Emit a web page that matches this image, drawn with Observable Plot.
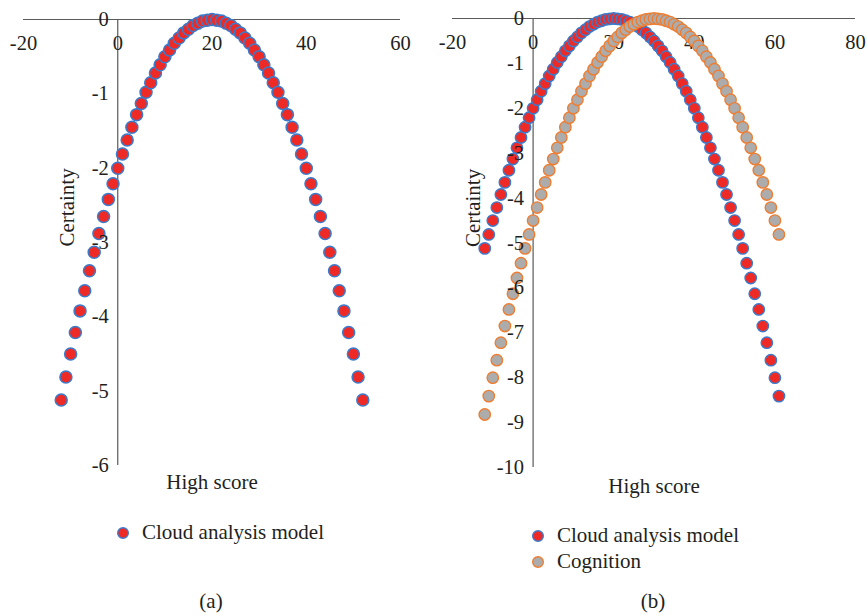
<!DOCTYPE html>
<html>
<head>
<meta charset="utf-8">
<script src="https://cdn.jsdelivr.net/npm/d3@7"></script>
<script src="https://cdn.jsdelivr.net/npm/@observablehq/plot@0.6"></script>
<style>
  html, body { margin: 0; padding: 0; background: #fff; }
  #wrap { position: relative; width: 868px; height: 616px; overflow: hidden; font-family: "Liberation Serif", serif; color: #231f20; }
  .panel { position: absolute; top: 0; }
  .lg { position: absolute; font-size: 21px; line-height: 22px; white-space: nowrap; }
  .lgm { position: absolute; }
  .cap { position: absolute; font-size: 21px; line-height: 22px; transform: translate(-50%, -50%); }
</style>
</head>
<body>
<div id="wrap">
  <div id="pa" class="panel" style="left:0px"></div>
  <div id="pb" class="panel" style="left:434px"></div>
</div>
<script>
// ---- Data ----
const scoreA = [-12,-11,-10,-9,-8,-7,-6,-5,-4,-3,-2,-1,0,1,2,3,4,5,6,7,8,9,10,11,12,13,14,15,16,17,18,19,20,21,22,23,24,25,26,27,28,29,30,31,32,33,34,35,36,37,38,39,40,41,42,43,44,45,46,47,48,49,50,51,52];
const cloudA = [-5.12,-4.81,-4.5,-4.21,-3.92,-3.65,-3.38,-3.13,-2.88,-2.65,-2.42,-2.21,-2,-1.81,-1.62,-1.45,-1.28,-1.13,-0.98,-0.85,-0.72,-0.61,-0.5,-0.41,-0.32,-0.25,-0.18,-0.13,-0.08,-0.05,-0.02,-0.01,0,
  -0.01,-0.02,-0.05,-0.08,-0.13,-0.18,-0.25,-0.32,-0.41,-0.5,-0.61,-0.72,-0.85,-0.98,-1.13,-1.28,-1.45,-1.62,-1.81,-2,-2.21,-2.42,-2.65,-2.88,-3.13,-3.38,-3.65,-3.92,-4.21,-4.5,-4.81,-5.12];

const scoreB = [-12,-11,-10,-9,-8,-7,-6,-5,-4,-3,-2,-1,0,1,2,3,4,5,6,7,8,9,10,11,12,13,14,15,16,17,18,19,20,21,22,23,24,25,26,27,28,29,30,31,32,33,34,35,36,37,38,39,40,41,42,43,44,45,46,47,48,49,50,51,52,53,54,55,56,57,58,59,60,61];
const cloudB = [-5.12,-4.81,-4.5,-4.21,-3.92,-3.65,-3.38,-3.13,-2.88,-2.65,-2.42,-2.21,-2,-1.81,-1.62,-1.45,-1.28,-1.13,-0.98,-0.85,-0.72,-0.61,-0.5,-0.41,-0.32,-0.25,-0.18,-0.13,-0.08,-0.05,-0.02,-0.01,0,
  -0.01,-0.02,-0.05,-0.08,-0.13,-0.18,-0.25,-0.32,-0.41,-0.5,-0.61,-0.72,-0.85,-0.98,-1.13,-1.28,-1.45,-1.62,-1.81,-2,-2.21,-2.42,-2.65,-2.88,-3.13,-3.38,-3.65,-3.92,-4.21,-4.5,-4.81,-5.12,
  -5.45,-5.78,-6.13,-6.48,-6.85,-7.22,-7.61,-8,-8.41];
const cognitionB = [-8.82,-8.41,-8,-7.61,-7.22,-6.85,-6.48,-6.13,-5.78,-5.45,-5.12,-4.81,-4.5,-4.21,-3.92,-3.65,-3.38,-3.13,-2.88,-2.65,-2.42,-2.21,-2,-1.81,-1.62,-1.45,-1.28,-1.13,-0.98,-0.85,-0.72,-0.61,-0.5,-0.41,-0.32,-0.25,-0.18,-0.13,-0.08,-0.05,-0.02,-0.01,0,
  -0.01,-0.02,-0.05,-0.08,-0.13,-0.18,-0.25,-0.32,-0.41,-0.5,-0.61,-0.72,-0.85,-0.98,-1.13,-1.28,-1.45,-1.62,-1.81,-2,-2.21,-2.42,-2.65,-2.88,-3.13,-3.38,-3.65,-3.92,-4.21,-4.5,-4.81];

const xTicksA = [-20, 0, 20, 40, 60];
const yTicksA = [0, -1, -2, -3, -4, -5, -6];
const xTicksB = [-20, 0, 20, 40, 60, 80];
const yTicksB = [0, -1, -2, -3, -4, -5, -6, -7, -8, -9, -10];
const seriesNames = ["Cloud analysis model", "Cognition"];
const xTitle = "High score";
const yTitle = "Certainty";
const captions = ["(a)", "(b)"];

// ---- Styles ----
const FONT = "Liberation Serif";
const AX = "#5a5a5a";
const TXT = "#231f20";
const RED = "#ee2a27", BLUE = "#3a7bcc", GREY = "#acacac", ORANGE = "#ee7d31";

const tableA = scoreA.map((s, i) => ({score: s, v: cloudA[i]}));
const tableB1 = scoreB.map((s, i) => ({score: s, v: cloudB[i]}));
const tableB2 = scoreB.map((s, i) => ({score: s, v: cognitionB[i]}));

function panel({width, height, mL, mR, mT, mB, xDom, yDom, xTicks, yTicks, series, r, sw, titleDy, yTitleDx}) {
  return Plot.plot({
    width, height,
    marginLeft: mL, marginRight: mR, marginTop: mT, marginBottom: mB,
    x: {domain: xDom, axis: null},
    y: {domain: yDom, axis: null},
    style: {fontFamily: FONT, background: "transparent", overflow: "visible"},
    marks: [
      Plot.ruleY([0], {stroke: AX, strokeWidth: 1.2}),
      Plot.ruleX([0], {stroke: AX, strokeWidth: 1.2}),
      Plot.text(xTicks, {x: d => d, frameAnchor: "top", dy: 16, fontSize: 20.5, fill: TXT, text: d => String(d)}),
      ...series.map(s => Plot.dot(s.data, {x: "score", y: "v", r, fill: s.fill, stroke: s.stroke, strokeWidth: sw})),
      Plot.text(yTicks, {x: 0, y: d => d, dx: -9, textAnchor: "end", fontSize: 20.5, fill: TXT, text: d => String(d)}),
      Plot.text([xTitle], {frameAnchor: "bottom", dy: titleDy, fontSize: 21, fill: TXT}),
      Plot.text([yTitle], {frameAnchor: "left", dx: yTitleDx, dy: 4, rotate: -90, fontSize: 21, fill: TXT})
    ]
  });
}

document.getElementById("pa").appendChild(panel({
  width: 434, height: 500, mL: 23, mR: 34, mT: 19, mB: 35,
  xDom: [-20, 60], yDom: [-6, 0], xTicks: xTicksA, yTicks: yTicksA,
  series: [{data: tableA, fill: RED, stroke: BLUE}],
  r: 6, sw: 1.5, titleDy: 23, yTitleDx: 44
}));

document.getElementById("pb").appendChild(panel({
  width: 434, height: 500, mL: 18, mR: 13, mT: 18, mB: 33,
  xDom: [-20, 80], yDom: [-10, 0], xTicks: xTicksB, yTicks: yTicksB,
  series: [{data: tableB1, fill: RED, stroke: BLUE}, {data: tableB2, fill: GREY, stroke: ORANGE}],
  r: 5.7, sw: 1.4, titleDy: 25, yTitleDx: 21
}));

// ---- Legends and captions ----
const wrap = document.getElementById("wrap");
function legendItem(cx, cy, fill, stroke, label) {
  const ns = "http://www.w3.org/2000/svg";
  const svg = document.createElementNS(ns, "svg");
  svg.setAttribute("width", 16); svg.setAttribute("height", 16);
  svg.setAttribute("class", "lgm");
  svg.style.left = (cx - 8) + "px"; svg.style.top = (cy - 8) + "px";
  const c = document.createElementNS(ns, "circle");
  c.setAttribute("cx", 8); c.setAttribute("cy", 8); c.setAttribute("r", 5.3);
  c.setAttribute("fill", fill); c.setAttribute("stroke", stroke); c.setAttribute("stroke-width", 1.4);
  svg.appendChild(c);
  wrap.appendChild(svg);
  const t = document.createElement("div");
  t.className = "lg"; t.textContent = label;
  t.style.left = (cx + 19) + "px"; t.style.top = (cy - 12) + "px";
  wrap.appendChild(t);
}
legendItem(123, 533, RED, BLUE, seriesNames[0]);
legendItem(538, 535.5, RED, BLUE, seriesNames[0]);
legendItem(538, 561.5, GREY, ORANGE, seriesNames[1]);

[[211, 601, captions[0]], [653, 601, captions[1]]].forEach(([x, y, s]) => {
  const d = document.createElement("div");
  d.className = "cap"; d.textContent = s;
  d.style.left = x + "px"; d.style.top = y + "px";
  wrap.appendChild(d);
});
</script>
</body>
</html>
